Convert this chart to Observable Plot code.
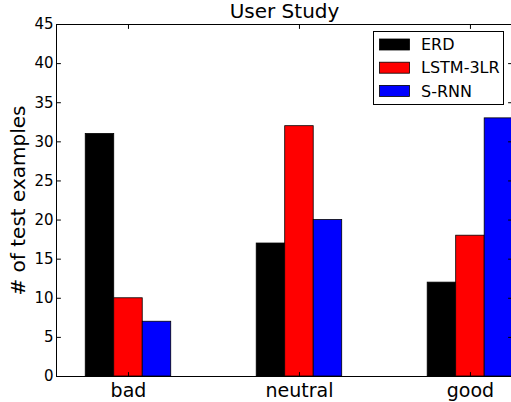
<!DOCTYPE html>
<html><head><meta charset="utf-8">
<script src="https://cdn.jsdelivr.net/npm/d3@7"></script>
<script src="https://cdn.jsdelivr.net/npm/@observablehq/plot@0.6"></script>
<style>
body{margin:0;background:#fff;}
#wrap{position:relative;width:511px;height:402px;overflow:hidden;font-family:"DejaVu Sans";}
#legend{position:absolute;left:373px;top:31px;}
</style></head><body><div id="wrap"></div>
<script>
const categories = ["bad", "neutral", "good"];
const seriesNames = ["ERD", "LSTM-3LR", "S-RNN"];
const erd = [31, 17, 12];
const lstm = [10, 32, 18];
const srnn = [7, 20, 33];
const seriesColors = ["#000000", "#ff0000", "#0000ff"];
const yTicks = [0, 5, 10, 15, 20, 25, 30, 35, 40, 45];
const title = "User Study";
const yLabel = "# of test examples";

const values = [erd, lstm, srnn];
const barWidth = 1 / 6;
const rows = [];
categories.forEach((c, ci) => seriesNames.forEach((s, si) =>
  rows.push({category: c, ci, series: s, si, value: values[si][ci]})));
const xIdx = categories.map((c, i) => i);

const tickShape = {draw(ctx, l) { ctx.moveTo(0, 0); ctx.lineTo(0, -l); }};
const tickOpts = {length: 4, anchor: "start", shape: tickShape, stroke: "black", strokeWidth: 1};

const chart = Plot.plot({
  width: 511, height: 402,
  marginLeft: 56, marginRight: -1, marginTop: 24, marginBottom: 26,
  style: {fontFamily: "DejaVu Sans", background: "white", color: "black", overflow: "visible"},
  x: {domain: [-0.421, 2.246]},
  y: {domain: [0, 45]},
  color: {domain: seriesNames, range: seriesColors},
  marks: [
    Plot.rect(rows, {
      x1: d => d.ci + (d.si - 1.5) * barWidth,
      x2: d => d.ci + (d.si - 0.5) * barWidth,
      y1: 0, y2: "value", fill: "series", stroke: "black", strokeWidth: 0.8
    }),
    Plot.frame({stroke: "black", strokeWidth: 1}),
    Plot.vector(yTicks, {y: d => d, frameAnchor: "left", rotate: 90, ...tickOpts}),
    Plot.vector(yTicks, {y: d => d, frameAnchor: "right", rotate: -90, ...tickOpts}),
    Plot.vector(xIdx, {x: d => d, frameAnchor: "bottom", rotate: 0, ...tickOpts}),
    Plot.vector(xIdx, {x: d => d, frameAnchor: "top", rotate: 180, ...tickOpts}),
    Plot.axisY({ticks: yTicks, tickSize: 0, tickPadding: 3, fontSize: 15, label: null}),
    Plot.axisX({ticks: xIdx, tickFormat: i => categories[i], tickSize: 0, tickPadding: 7, fontSize: 19, label: null}),
    Plot.text([title], {frameAnchor: "top", dy: -7, lineAnchor: "bottom", fontSize: 20}),
    Plot.text([yLabel], {frameAnchor: "left", textAnchor: "middle", dx: -38, rotate: -90, fontSize: 20})
  ]
});
const wrap = document.getElementById("wrap");
wrap.appendChild(chart);

// Legend built from the chart's color scale
const color = chart.scale("color");
const lw = 131, lh = 74;
const legend = d3.create("svg").attr("id", "legend").attr("width", lw).attr("height", lh)
  .style("font-family", "DejaVu Sans");
legend.append("rect").attr("x", 0.5).attr("y", 0.5).attr("width", lw - 1).attr("height", lh - 1)
  .attr("fill", "white").attr("stroke", "black").attr("stroke-width", 1);
color.domain.forEach((s, i) => {
  const cy = 13.5 + i * 23.2;
  legend.append("rect").attr("x", 6.5).attr("y", cy - 5.5).attr("width", 30).attr("height", 11)
    .attr("fill", color.range[i]).attr("stroke", "black").attr("stroke-width", 0.8);
  legend.append("text").attr("x", 48).attr("y", cy).attr("dy", "0.36em")
    .attr("font-size", 16).attr("fill", "black").text(s);
});
wrap.appendChild(legend.node());
</script></body></html>
